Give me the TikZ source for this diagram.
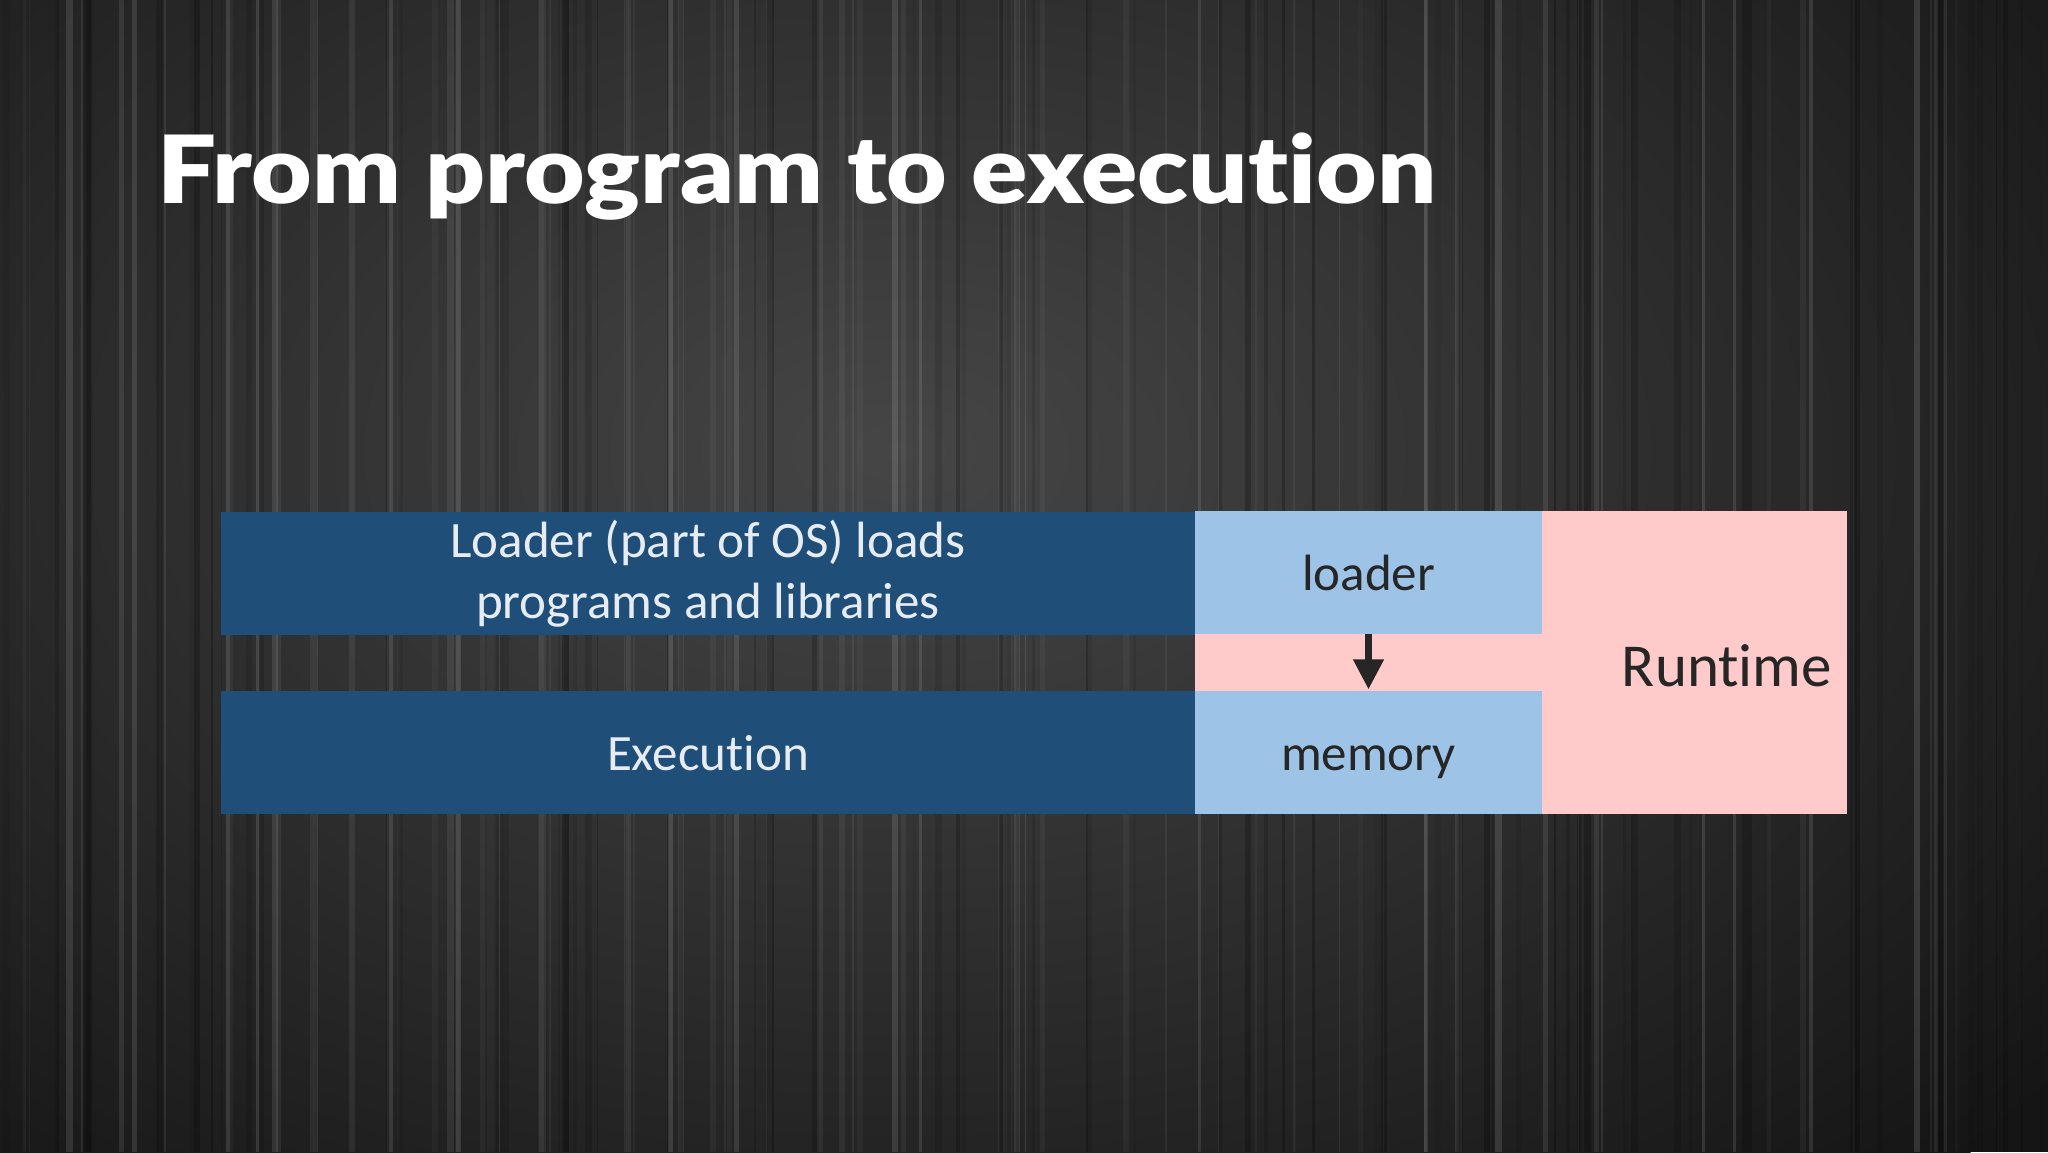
\documentclass[tikz,border=0pt]{standalone}
\usepackage{fontspec}
\setmainfont{Carlito}[Ligatures={NoCommon}]
\newfontfamily\titlefont{Lato Black}[Ligatures={NoCommon}]
\usetikzlibrary{arrows.meta}
\definecolor{bgdark}{HTML}{151515}
\definecolor{bgmid}{HTML}{464646}
\definecolor{dblue}{HTML}{1F4E79}
\definecolor{lblue}{HTML}{9DC3E6}
\definecolor{pinkbox}{HTML}{FFCACA}
\definecolor{lighttext}{HTML}{E6ECF2}
\definecolor{darktext}{HTML}{262626}
\tikzset{
  box/.style={rectangle, inner sep=0pt, outer sep=0pt, draw=none},
  darkbox/.style={box, fill=dblue, minimum width=974, minimum height=123,
    text=lighttext, align=center, font=\fontsize{51}{61}\selectfont},
  lightbox/.style={box, fill=lblue, minimum width=347, minimum height=123,
    text=darktext, text height=36pt, text depth=0pt, font=\fontsize{51}{61}\selectfont},
  pinkbg/.style={box, fill=pinkbox, minimum width=652, minimum height=303},
  flowarrow/.style={draw=darktext, line width=7, -{Triangle[width=29,length=30]}},
}
\begin{document}
\begin{tikzpicture}[x=1pt,y=1pt]
\useasboundingbox (0,0) rectangle (2048,1152);
% background
\fill[bgdark] (0,0) rectangle (2048,1152);
\shade[inner color=bgmid, outer color=bgdark] (900,700) ellipse (1500 and 1000);
\pgfmathsetseed{11}
\foreach \i in {1,...,160}{
  \pgfmathsetmacro{\xx}{random(0,2048)}
  \pgfmathsetmacro{\ww}{random(1,7)}
  \pgfmathsetmacro{\oo}{random(5,25)/100}
  \pgfmathsetmacro{\cc}{random(0,1)}
  \ifdim\cc pt>0.5pt
    \fill[white, opacity=\oo*0.5] (\xx,0) rectangle ++(\ww,1152);
  \else
    \fill[black, opacity=\oo] (\xx,0) rectangle ++(\ww,1152);
  \fi
}
% title
\node[anchor=base west, inner sep=0pt, text=white,
  font=\titlefont\fontsize{94}{94}\selectfont] (title) at (157,948) {\scalebox{1.112}[1]{From program to execution}};
% boxes
\node[pinkbg] (runtimebox) at (1521,489.5) {};
\node[darkbox] (loaderdesc) at (708,578) {Loader (part of OS) loads\\programs and libraries};
\node[darkbox] (execution) at (708,399) {Execution};
\node[lightbox] (loader) at (1368.5,579.5) {loader};
\node[lightbox] (memory) at (1368.5,399) {memory};
\node[anchor=base, inner sep=0pt, text=darktext, font=\fontsize{61}{61}\selectfont] (runtime) at (1727,465) {Runtime};
% arrow
\draw[flowarrow] (loader.south) -- ([yshift=2]memory.north);
\end{tikzpicture}
\end{document}
